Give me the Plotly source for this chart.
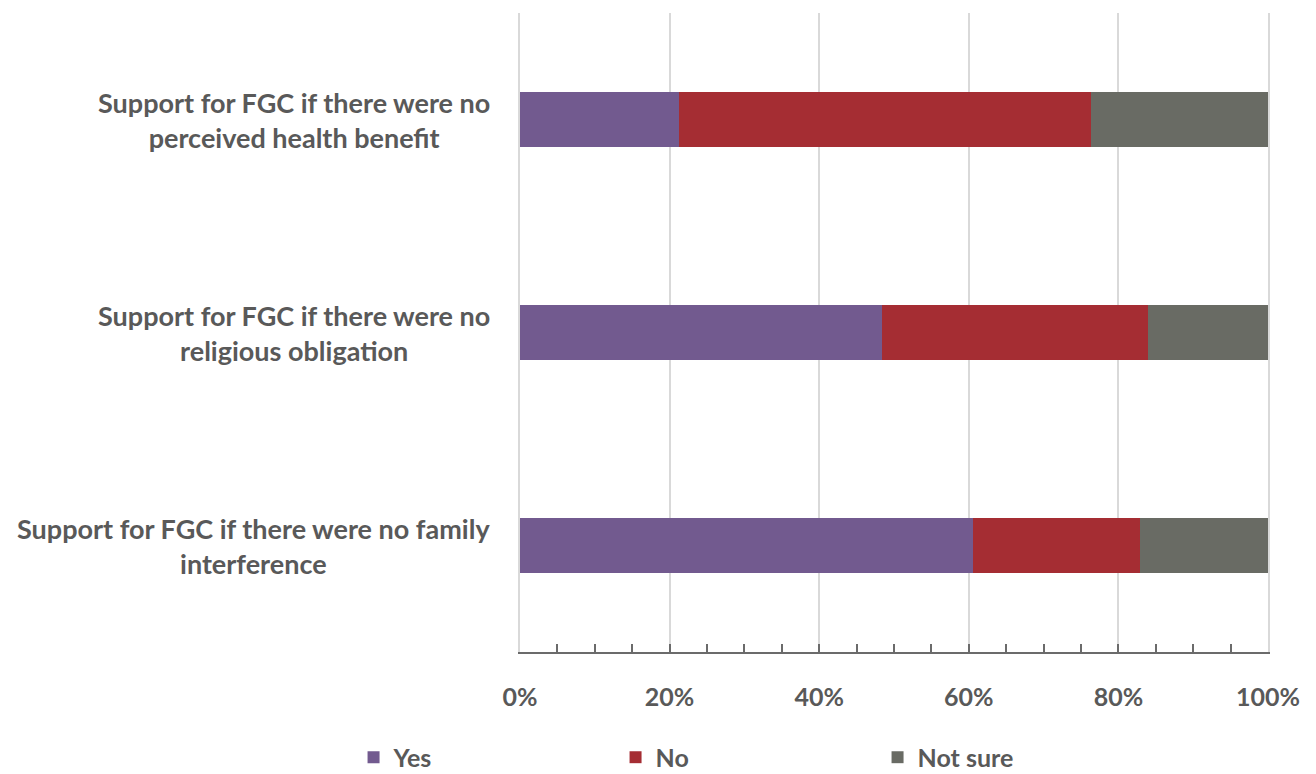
import plotly.graph_objects as go

categories = [
    "Support for FGC if there were no<br>perceived health benefit",
    "Support for FGC if there were no<br>religious obligation",
    "Support for FGC if there were no family<br>interference",
]
yes = [21.3, 48.4, 60.5]
no = [55.1, 35.5, 22.4]
not_sure = [23.6, 16.1, 17.1]

colors = {"Yes": "#725a8f", "No": "#a52d33", "Not sure": "#696b64"}
font_family = "Lato, 'Open Sans', sans-serif"
txt_color = "#595959"

fig = go.Figure()
for name, vals in [("Yes", yes), ("No", no), ("Not sure", not_sure)]:
    fig.add_trace(go.Bar(
        y=categories, x=[v / 100 for v in vals], name=name, orientation="h",
        marker=dict(color=colors[name], line=dict(width=0)),
    ))

for c in categories:
    fig.add_annotation(
        x=(492 - 520) / 748, xref="paper", y=c, yref="y",
        text="<b>" + c + "</b>", showarrow=False, xanchor="right", align="center",
        font=dict(family=font_family, size=27, color=txt_color),
    )

fig.update_layout(
    width=1316, height=774,
    margin=dict(l=520, r=48, t=13, b=122, autoexpand=False),
    barmode="stack", bargap=0.74,
    plot_bgcolor="white", paper_bgcolor="white",
    font=dict(family=font_family, size=22, color=txt_color),
    legend=dict(
        orientation="h", x=(373 - 520) / 748 - 0.026, xanchor="left", y=-0.165, yanchor="middle",
        entrywidth=217, entrywidthmode="pixels",
        font=dict(family=font_family, size=25, color=txt_color, weight="bold"),
        traceorder="normal", itemwidth=30,
    ),
    showlegend=True,
)
fig.update_xaxes(
    range=[0, 1], tickformat=".0%", dtick=0.2, tick0=0,
    showgrid=True, gridcolor="#d9d9d9", gridwidth=1.5,
    showline=True, linecolor="#6b6b6b", linewidth=2,
    ticks="inside", ticklen=8, tickcolor="#6b6b6b", tickwidth=2,
    minor=dict(dtick=0.05, tick0=0, ticks="inside", ticklen=8, tickcolor="#6b6b6b", tickwidth=1.5, showgrid=False),
    tickfont=dict(family=font_family, size=25, color=txt_color, weight="bold"),
    ticklabelstandoff=22, zeroline=False,
)
fig.update_yaxes(
    categoryorder="array", categoryarray=categories[::-1],
    showticklabels=False, showgrid=False, ticks="",
    showline=True, mirror=True, linecolor="#d9d9d9", linewidth=1.5,
)

fig.write_html("out.html")
